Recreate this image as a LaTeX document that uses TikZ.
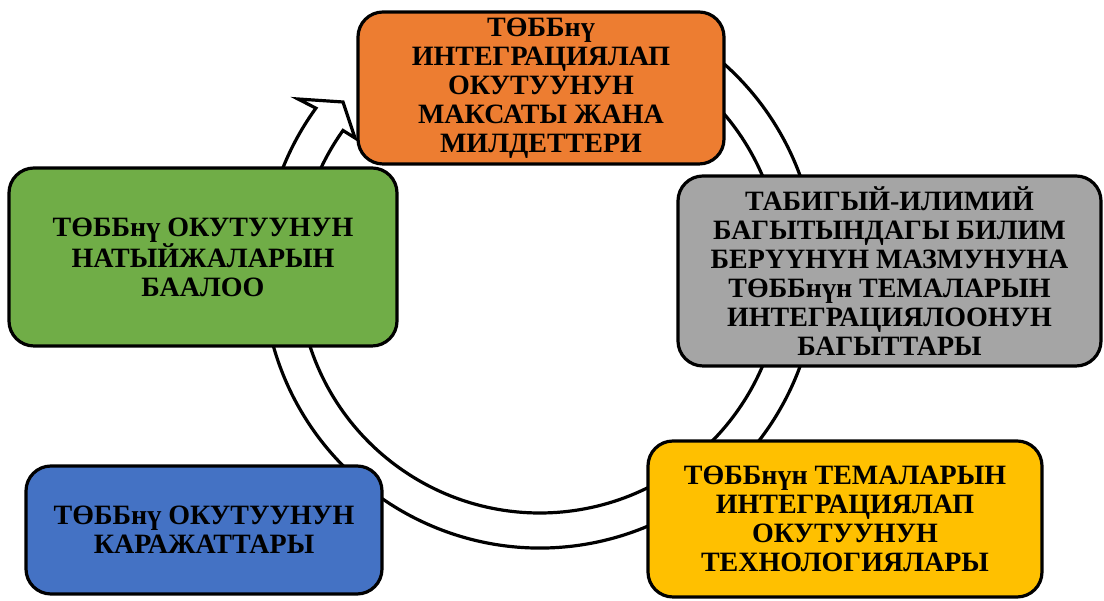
\documentclass[tikz,border=0pt]{standalone}
\usepackage{fontspec}
\setmainfont{Liberation Serif}
\usetikzlibrary{calc}
\begin{document}
\begin{tikzpicture}[x=1pt,y=1pt,
  box/.style={draw=black, line width=3.2pt, rounded corners=25pt, align=center,
    font=\bfseries\fontsize{28}{29}\selectfont, inner sep=1pt},
  ring/.style={draw=black, fill=white, line width=3.2pt, line join=miter}]
\useasboundingbox (0,0) rectangle (1104,601);
\coordinate (ctr) at (540,330);
% circular block arrow
\draw[ring] ($(ctr)+(65:277)$) arc[start angle=65, end angle=-216, radius=277]
  -- (298,502) -- (343,499) -- (355,463) -- ($(ctr)+(-215.5:242)$)
  arc[start angle=-215.5, end angle=65, radius=242] -- cycle;
% boxes
\node[box, fill={rgb,255:red,237;green,125;blue,49}, minimum width=366, minimum height=152] (goal) at (541,513)
  {ТӨББнү\\ИНТЕГРАЦИЯЛАП\\ОКУТУУНУН\\МАКСАТЫ ЖАНА\\МИЛДЕТТЕРИ};
\node[box, fill={rgb,255:red,165;green,165;blue,165}, minimum width=423, minimum height=190] (content) at (889.5,330)
  {ТАБИГЫЙ-ИЛИМИЙ\\БАГЫТЫНДАГЫ БИЛИМ\\БЕРҮҮНҮН МАЗМУНУНА\\ТӨББнүн ТЕМАЛАРЫН\\ИНТЕГРАЦИЯЛООНУН\\БАГЫТТАРЫ};
\node[box, fill={rgb,255:red,255;green,192;blue,0}, minimum width=394, minimum height=156] (tech) at (845,82)
  {ТӨББнүн ТЕМАЛАРЫН\\ИНТЕГРАЦИЯЛАП\\ОКУТУУНУН\\ТЕХНОЛОГИЯЛАРЫ};
\node[box, fill={rgb,255:red,68;green,114;blue,196}, minimum width=356, minimum height=128] (means) at (204,71)
  {ТӨББнү ОКУТУУНУН\\КАРАЖАТТАРЫ};
\node[box, fill={rgb,255:red,112;green,173;blue,71}, minimum width=388, minimum height=178] (eval) at (203,344)
  {ТӨББнү ОКУТУУНУН\\НАТЫЙЖАЛАРЫН\\БААЛОО};
\end{tikzpicture}
\end{document}
